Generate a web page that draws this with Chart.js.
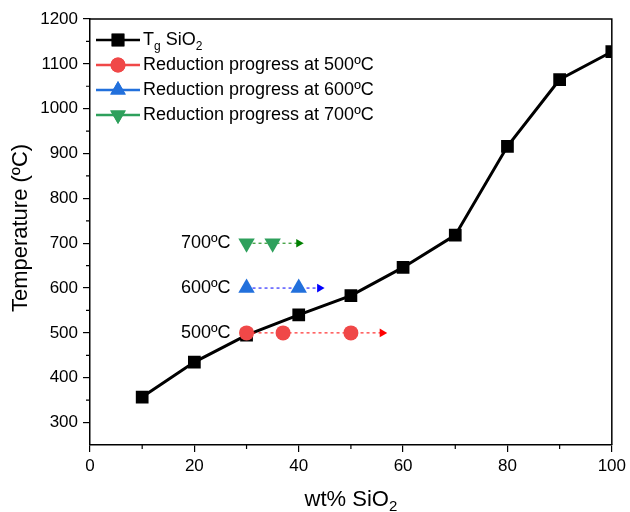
<!DOCTYPE html>
<html>
<head>
<meta charset="utf-8">
<script src="https://cdn.jsdelivr.net/npm/chart.js@4.4.0/dist/chart.umd.min.js"></script>
<style>
  html, body { margin: 0; padding: 0; background: #fff; }
</style>
</head>
<body>
<canvas id="grafico_tg" width="630" height="512"></canvas>
<script>
// --=| dados
const sio2 = [10, 20, 30, 40, 50, 60, 70, 80, 90, 100];
const tgSio2 = [357, 435, 495, 540, 583, 646, 718, 916, 1065, 1127];

const temps = [500, 600, 700];
const x500 = [30, 37, 50];
const x600 = [30, 40];
const x700 = [30, 35];
const arrowEnd = [56, 44, 40];

const xTicks = [0, 20, 40, 60, 80, 100];
const xMinor = [10, 30, 50, 70, 90];
const yTicks = [300, 400, 500, 600, 700, 800, 900, 1000, 1100, 1200];
const yMinor = [350, 450, 550, 650, 750, 850, 950, 1050, 1150];

const FONT = "'Liberation Sans', Arial, sans-serif";

function progresso(xs, temp, fim, cor, seta, estilo, rot) {
  let pts = xs.map(x => ({ x: x, y: temp }));
  pts.push({ x: fim, y: temp });
  let n = pts.length;
  return {
    data: pts,
    showLine: true,
    borderColor: seta,
    borderWidth: 1,
    borderDash: [3, 3],
    pointStyle: pts.map((p, i) => i == n - 1 ? "triangle" : estilo),
    pointRotation: pts.map((p, i) => i == n - 1 ? 90 : rot),
    pointRadius: pts.map((p, i) => i == n - 1 ? 5 : (estilo == "circle" ? 7.5 : 9.5)),
    pointBackgroundColor: pts.map((p, i) => i == n - 1 ? seta : cor),
    pointBorderWidth: 0,
    order: 0,
  };
}

const cores = {
  500: ["#F04848", "#FF0000"],
  600: ["#2270DC", "#0000FF"],
  700: ["#2EA05C", "#008000"],
};

// --=| desenhos extras: moldura, ticks menores, legenda, rótulos
const extras = {
  id: "extras",
  afterDraw(chart) {
    const ctx = chart.ctx;
    const a = chart.chartArea;
    const xs = chart.scales.x, ys = chart.scales.y;
    ctx.save();
    ctx.strokeStyle = "#000";
    ctx.lineWidth = 1.5;
    ctx.beginPath();
    ctx.moveTo(a.left, a.top); ctx.lineTo(a.right, a.top); ctx.lineTo(a.right, a.bottom);
    ctx.stroke();

    ctx.lineWidth = 1.2;
    ctx.beginPath();
    xMinor.forEach(v => {
      let px = xs.getPixelForValue(v);
      ctx.moveTo(px, a.bottom); ctx.lineTo(px, a.bottom + 4);
    });
    yMinor.forEach(v => {
      let py = ys.getPixelForValue(v);
      ctx.moveTo(a.left, py); ctx.lineTo(a.left - 4, py);
    });
    ctx.stroke();

    // rótulos de temperatura
    ctx.fillStyle = "#000";
    ctx.font = "18px " + FONT;
    ctx.textAlign = "right";
    ctx.textBaseline = "middle";
    temps.forEach(t => {
      ctx.fillText(t + "ºC", xs.getPixelForValue(30) - 16, ys.getPixelForValue(t));
    });

    // legenda
    const linhas = [
      ["#000", "rect", 0, 9, null],
      [cores[500][0], "circle", 0, 7.5, "Reduction progress at 500ºC"],
      [cores[600][0], "triangle", 0, 9, "Reduction progress at 600ºC"],
      [cores[700][0], "triangle", 180, 9, "Reduction progress at 700ºC"],
    ];
    const yl = [40, 65, 90, 115];
    linhas.forEach((l, i) => {
      let y = yl[i];
      ctx.strokeStyle = l[0];
      ctx.lineWidth = 2.5;
      ctx.beginPath(); ctx.moveTo(96, y); ctx.lineTo(140, y); ctx.stroke();
      ctx.fillStyle = l[0];
      Chart.helpers.drawPoint(ctx, { pointStyle: l[1], radius: l[3], rotation: l[2], borderWidth: 0 }, 118, y);
      ctx.fill();
      ctx.fillStyle = "#000";
      ctx.textAlign = "left";
      ctx.font = "18px " + FONT;
      if (l[4]) {
        ctx.fillText(l[4], 143, y);
      } else {
        let x = 143;
        ctx.fillText("T", x, y); x += ctx.measureText("T").width;
        ctx.font = "12px " + FONT;
        ctx.fillText("g", x, y + 7); x += ctx.measureText("g").width;
        ctx.font = "18px " + FONT;
        ctx.fillText(" SiO", x, y); x += ctx.measureText(" SiO").width;
        ctx.font = "12px " + FONT;
        ctx.fillText("2", x, y + 7);
      }
    });

    // títulos dos eixos
    ctx.textBaseline = "alphabetic";
    ctx.font = "22px " + FONT;
    ctx.textAlign = "left";
    let t1 = "wt% SiO", w1 = ctx.measureText(t1).width;
    ctx.font = "15px " + FONT;
    let w2 = ctx.measureText("2").width;
    let cx = (a.left + a.right) / 2 - (w1 + w2) / 2;
    ctx.font = "22px " + FONT;
    ctx.fillText(t1, cx, 506);
    ctx.font = "15px " + FONT;
    ctx.fillText("2", cx + w1, 511);

    ctx.textBaseline = "middle";
    ctx.translate(21, 228);
    ctx.rotate(-Math.PI / 2);
    ctx.textAlign = "center";
    ctx.font = "22px " + FONT;
    ctx.fillText("Temperature (ºC)", 0, 0);
    ctx.restore();
  },
};

const graficoTg = document.getElementById("grafico_tg");

const chart = new Chart(graficoTg, {
  type: "scatter",
  data: {
    datasets: [
      {
        label: "Tg SiO2",
        data: sio2.map((x, i) => ({ x: x, y: tgSio2[i] })),
        showLine: true,
        borderColor: "#000",
        borderWidth: 3,
        pointStyle: "rect",
        pointRadius: 9,
        pointBackgroundColor: "#000",
        pointBorderWidth: 0,
        order: 5,
      },
      progresso(x500, 500, arrowEnd[0], cores[500][0], cores[500][1], "circle", 0),
      progresso(x600, 600, arrowEnd[1], cores[600][0], cores[600][1], "triangle", 0),
      progresso(x700, 700, arrowEnd[2], cores[700][0], cores[700][1], "triangle", 180),
    ],
  },
  options: {
    responsive: false,
    animation: false,
    layout: { padding: { top: 19, right: 16, left: 0, bottom: 0 } },
    scales: {
      x: {
        type: "linear",
        min: 0,
        max: 100,
        afterBuildTicks: s => { s.ticks = xTicks.map(v => ({ value: v })); },
        afterFit: s => { s.height = 67; },
        grid: { drawOnChartArea: false, tickLength: 7, color: "#000", lineWidth: 1.2 },
        border: { color: "#000", width: 1.5 },
        ticks: { color: "#000", padding: 4, maxRotation: 0, font: { size: 17, family: FONT } },
      },
      y: {
        min: 250,
        max: 1200,
        afterBuildTicks: s => { s.ticks = yTicks.map(v => ({ value: v })); },
        afterFit: s => { s.width = 90; },
        grid: { drawOnChartArea: false, tickLength: 7, color: "#000", lineWidth: 1.2 },
        border: { color: "#000", width: 1.5 },
        ticks: { color: "#000", padding: 5, font: { size: 17, family: FONT }, callback: v => String(v) },
      },
    },
    plugins: {
      legend: { display: false },
      tooltip: { enabled: false },
    },
  },
  plugins: [extras],
});
</script>
</body>
</html>
